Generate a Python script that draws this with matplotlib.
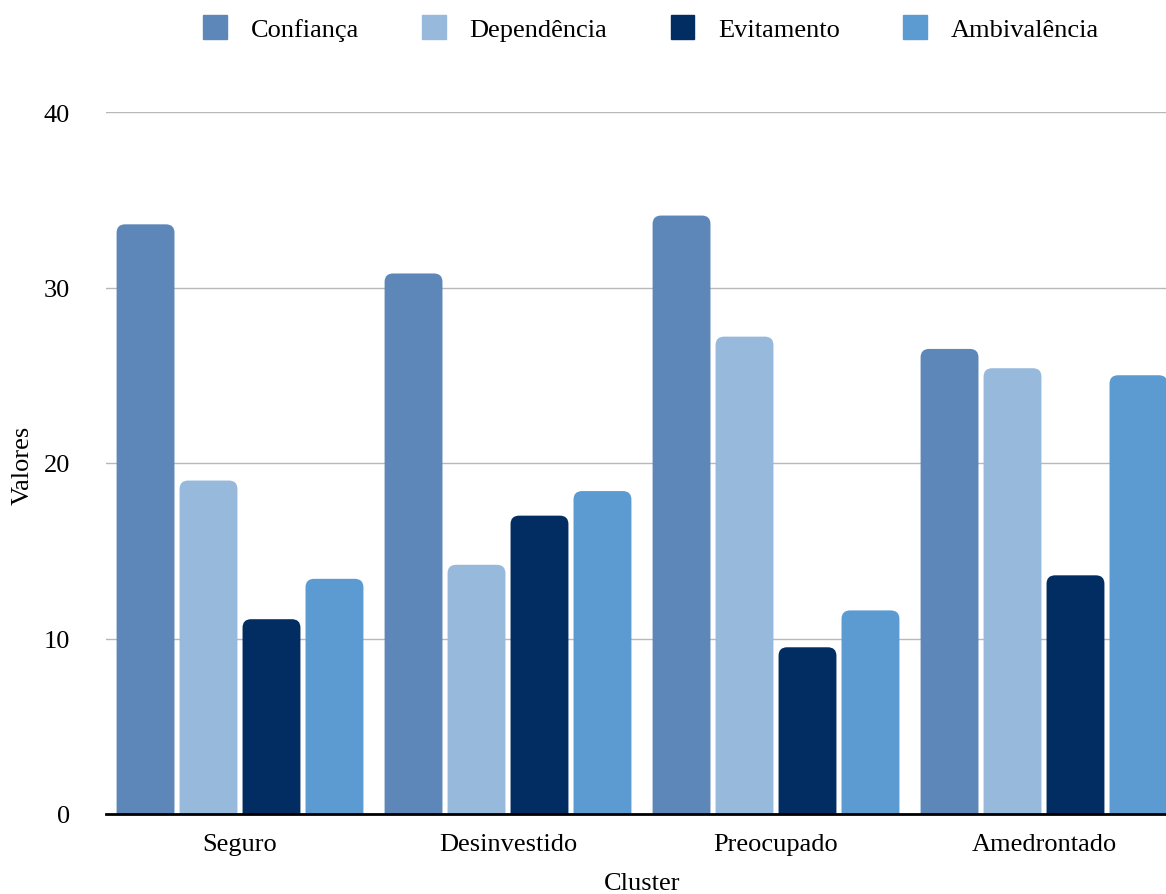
import numpy as np
import matplotlib.pyplot as plt
from matplotlib.patches import FancyBboxPatch

plt.rcParams['font.family'] = ['Liberation Serif', 'DejaVu Serif']

clusters = ["Seguro", "Desinvestido", "Preocupado", "Amedrontado"]
series = ["Confiança", "Dependência", "Evitamento", "Ambivalência"]
confianca = [33.6, 30.8, 34.1, 26.5]
dependencia = [19.0, 14.2, 27.2, 25.4]
evitamento = [11.1, 17.0, 9.5, 13.6]
ambivalencia = [13.4, 18.4, 11.6, 25.0]
colors = ["#5E87B9", "#97B9DC", "#022D62", "#5B9BD1"]

values = [confianca, dependencia, evitamento, ambivalencia]

fig = plt.figure(figsize=(11.66, 8.95), dpi=100)
ax = fig.add_axes([106 / 1166, 1 - 815 / 895, 1072 / 1166, 702 / 895])

x = np.arange(len(clusters))
step = 0.235
width = 0.216
offsets = (np.arange(4) - 1.5) * step

# rounded tops: draw plain bars for positions, then swap in rounded patches
aspect = 15.0
for i, (vals, name, c) in enumerate(zip(values, series, colors)):
    bars = ax.bar(x + offsets[i], vals, width, color=c, label=name)
    for b in bars:
        b.set_visible(False)
        r = 0.032
        p = FancyBboxPatch((b.get_x(), -3), b.get_width(), b.get_height() + 3,
                           boxstyle=f"round,pad=0,rounding_size={r}",
                           mutation_aspect=aspect, facecolor=c,
                           edgecolor="none", zorder=3)
        ax.add_patch(p)

ax.set_xlim(-0.5, 3.5)
ax.set_ylim(0, 40)
ax.set_yticks([0, 10, 20, 30, 40])
ax.set_xticks(x)
ax.set_xticklabels(clusters)
ax.tick_params(axis="both", length=0, labelsize=19)
ax.tick_params(axis="y", pad=26)
ax.tick_params(axis="x", pad=14)
ax.grid(axis="y", color="#B8B8B8", linewidth=1.0, zorder=0)
ax.set_axisbelow(True)
for s in ["top", "right", "left"]:
    ax.spines[s].set_visible(False)
ax.spines["bottom"].set_linewidth(2.0)
ax.spines["bottom"].set_color("black")
ax.spines["bottom"].set_zorder(4)

ax.set_xlabel("Cluster", fontsize=19, labelpad=12)
ax.set_ylabel("Valores", fontsize=19)
ax.yaxis.set_label_coords(-72 / 1072, (815 - 465) / 702)

handles = [plt.Rectangle((0, 0), 1, 1, color=c) for c in colors]
fig.legend(handles, series, loc="center", bbox_to_anchor=(651 / 1166, 1 - 29 / 895),
           ncol=4, frameon=False, fontsize=19, handlelength=0.9, handleheight=1.0,
           handletextpad=0.9, columnspacing=2.4)

fig.savefig("out.png", dpi=100)
